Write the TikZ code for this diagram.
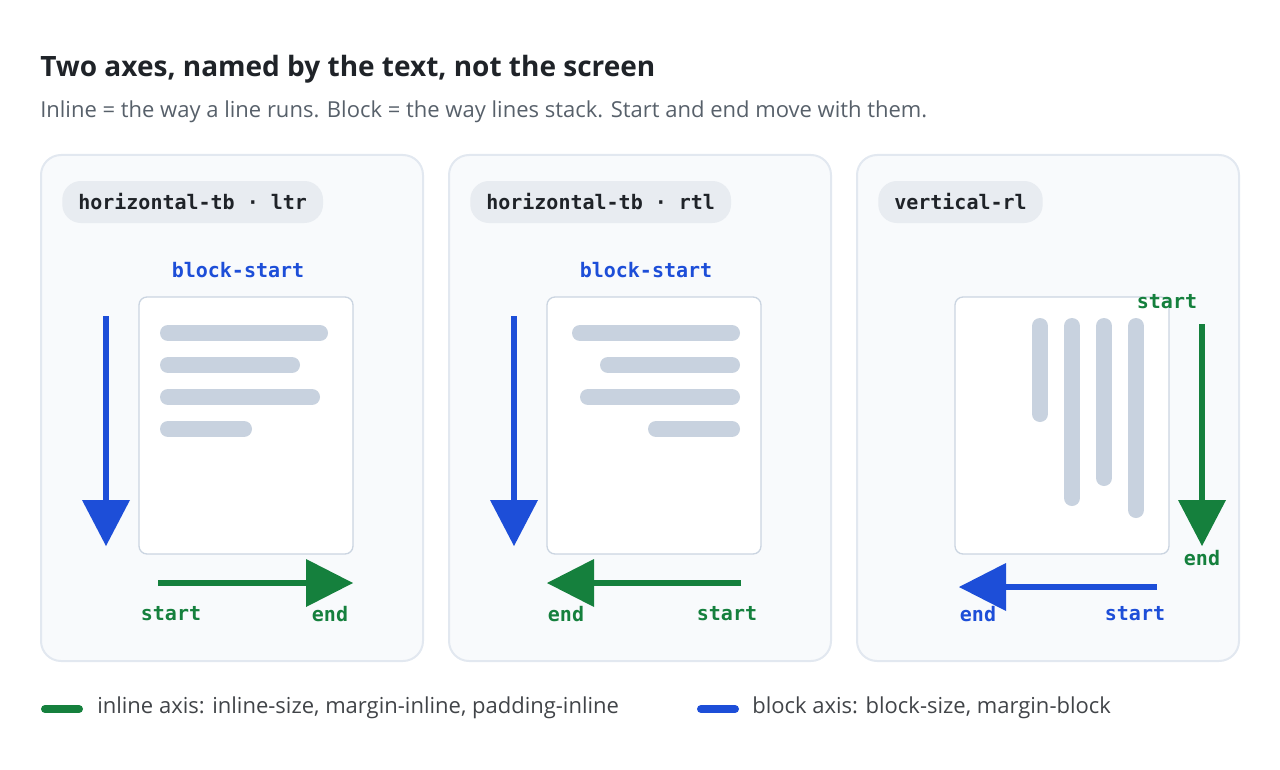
\documentclass[tikz,border=0pt]{standalone}
\usepackage{fontspec}
\setmainfont{Open Sans}
\setmonofont{DejaVu Sans Mono}
\begin{document}
\definecolor{ink}{HTML}{1F2328}
\definecolor{sub}{HTML}{57606A}
\definecolor{pbg}{HTML}{F8FAFC}
\definecolor{pbd}{HTML}{E2E8F0}
\definecolor{pill}{HTML}{E8ECF1}
\definecolor{dbd}{HTML}{CBD5E1}
\definecolor{bar}{HTML}{C8D2DF}
\definecolor{blu}{HTML}{1D4ED8}
\definecolor{grn}{HTML}{15803D}
\begin{tikzpicture}[x=0.75pt,y=-0.75pt,
 panel/.style={draw=pbd,line width=1.5pt,fill=pbg,rounded corners=15pt},
 pillst/.style={fill=pill,rounded corners=14pt,inner sep=0pt,minimum height=31.5pt,font=\ttfamily\bfseries\fontsize{15}{18}\selectfont,text=ink,anchor=west,inner xsep=12pt},
 doc/.style={draw=dbd,line width=1pt,fill=white,rounded corners=6pt},
 bar/.style={line width=12pt,line cap=round,draw=bar},
 lab/.style={font=\ttfamily\bfseries\fontsize{15}{18}\selectfont},
 ax/.style={line width=4.5pt},
 head/.style={draw=none}]
\useasboundingbox (0,0) rectangle (1280,770);
\node[anchor=base west,inner sep=0,text=ink,font=\bfseries\fontsize{21}{25}\selectfont] (t) at (40,77) {Two axes, named by the text, not the screen};
\node[anchor=base west,inner sep=0,text=sub,font=\fontsize{16.5}{20}\selectfont] (s) at (40,118) {Inline = the way a line runs. Block = the way lines stack. Start and end move with them.};
% panels
\foreach \o in {0,408,816}{\draw[panel] (41+\o,155) rectangle (423+\o,661);}
\node[pillst] (p1) at (62,202) {horizontal-tb · ltr};
\node[pillst] (p2) at (470,202) {horizontal-tb · rtl};
\node[pillst] (p3) at (878,202) {vertical-rl};
% panel 1
\node[lab,text=blu] (bs1) at (238,270) {block-start};
\draw[doc] (139,297) rectangle (353,554);
\draw[bar] (168,333)--(320,333); \draw[bar] (168,365)--(292,365);
\draw[bar] (168,397)--(312,397); \draw[bar] (168,429)--(244,429);
\draw[ax,blu] (106,316)--(106,502); \fill[blu] (82,500)--(130,500)--(106,546)--cycle;
\draw[ax,grn] (158,583)--(308,583); \fill[grn] (306,559)--(306,607)--(353,583)--cycle;
\node[lab,text=grn] (s1) at (171,614) {start};
\node[lab,text=grn] (e1) at (330,614) {end};
% panel 2
\node[lab,text=blu] (bs2) at (646,270) {block-start};
\draw[doc] (547,297) rectangle (761,554);
\draw[bar] (580,333)--(732,333); \draw[bar] (608,365)--(732,365);
\draw[bar] (588,397)--(732,397); \draw[bar] (656,429)--(732,429);
\draw[ax,blu] (514,316)--(514,502); \fill[blu] (490,500)--(538,500)--(514,546)--cycle;
\draw[ax,grn] (741,583)--(592,583); \fill[grn] (594,559)--(594,607)--(547,583)--cycle;
\node[lab,text=grn] (e2) at (566,614) {end};
\node[lab,text=grn] (s2) at (727,614) {start};
% panel 3
\draw[doc] (955,297) rectangle (1169,554);
\draw[bar] (1040,326)--(1040,414); \draw[bar] (1072,326)--(1072,498);
\draw[bar] (1104,326)--(1104,478); \draw[bar] (1136,326)--(1136,510);
\node[lab,text=grn] (s3) at (1167,302) {start};
\draw[ax,grn] (1202,324)--(1202,502); \fill[grn] (1178,500)--(1226,500)--(1202,546)--cycle;
\node[lab,text=grn] (e3) at (1202,558) {end};
\draw[ax,blu] (1157,587)--(1004,587); \fill[blu] (1006,563)--(1006,611)--(959,587)--cycle;
\node[lab,text=blu] (e4) at (978,614) {end};
\node[lab,text=blu] (s4) at (1135,614) {start};
% legend
\draw[grn,line width=6pt,line cap=round] (45,709)--(79,709);
\node[anchor=west,inner sep=0,text=ink!85,font=\fontsize{16.5}{20}\selectfont] (l1) at (97,708) {inline axis: inline-size, margin-inline, padding-inline};
\draw[blu,line width=6pt,line cap=round] (701,709)--(735,709);
\node[anchor=west,inner sep=0,text=ink!85,font=\fontsize{16.5}{20}\selectfont] (l2) at (752,708) {block axis: block-size, margin-block};
\end{tikzpicture}
\end{document}
